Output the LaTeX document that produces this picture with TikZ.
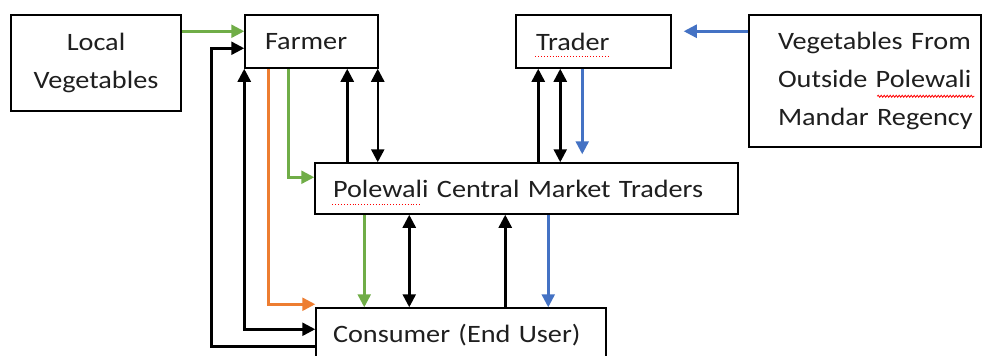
\documentclass[tikz,border=0pt]{standalone}
\usepackage{fontspec}
\setmainfont{Carlito}[FakeStretch=1.13]
\usetikzlibrary{arrows.meta,calc,decorations.pathmorphing}
\definecolor{cgreen}{HTML}{70AD47}
\definecolor{corange}{HTML}{ED7D31}
\definecolor{cblue}{HTML}{4472C4}
\tikzset{
  box/.style={draw, line width=1.5pt, inner sep=0pt, text=black!88, font=\fontsize{25}{38}\selectfont},
  conn/.style={line width=2.5pt, -{Triangle[length=13pt,width=13pt]}},
  dconn/.style={line width=2.5pt, {Triangle[length=13pt,width=13pt]}-{Triangle[length=13pt,width=13pt]}},
  spell/.style={red, line width=0.9pt, dotted},
}
\begin{document}
\begin{tikzpicture}[x=1pt,y=-1pt]
\clip (0,0) rectangle (991,356);
\fill[white] (0,0) rectangle (991,356);
% boxes
\node[box, minimum width=170, minimum height=96, align=center] (lv) at (96,63) {Local\\Vegetables};
\node[box, minimum width=133, minimum height=53, text width=93, inner xsep=20, align=left] (farmer) at (311.5,41.5) {Farmer};
\node[box, minimum width=155, minimum height=53, text width=115, inner xsep=20, align=left] (trader) at (593.5,41.5) {Trader};
\node[box, minimum width=232, minimum height=132, text width=174, inner xsep=29, align=left] (veg) at (865,81) {\mbox{Vegetables From}\\\mbox{Outside Polewali}\\\mbox{Mandar Regency}};
\node[box, minimum width=423, minimum height=51, text width=387, inner xsep=18, align=left] (pcmt) at (526.5,188.5) {\mbox{Polewali Central Market Traders}};
\node[box, minimum width=290, minimum height=54, text width=256, inner xsep=17, align=left] (consumer) at (461,335) {\mbox{Consumer (End User)}};
% spell-check marks
\draw[spell] ($(trader.north west)+(20,42)$) -- ++(74,0);
\draw[spell] ($(pcmt.north west)+(18,42)$) -- ++(88,0);
\draw[red, line width=0.8pt, decorate, decoration={snake, amplitude=1pt, segment length=3pt}] ($(veg.north west)+(129,82)$) -- ++(97,0);
% top connectors
\draw[conn, cgreen] ($(lv.north east)+(0,17)$) -- ($(farmer.north west)+(0,17)$);
\draw[conn, cblue] ($(veg.north west)+(0,17)$) -- ($(trader.north east)+(12,17)$);
% farmer <-> consumer loops
\draw[conn, line join=miter] ($(consumer.north west)+(0,39)$) -- ++(-104,0) |- ($(farmer.north west)+(0,34)$);
\draw[dconn] (farmer.south west) |- ($(consumer.north west)+(0,22)$);
\draw[conn, corange] ($(farmer.south west)+(24,0)$) |- ($(consumer.north west)+(0,-3)$);
\draw[conn, cgreen] ($(farmer.south west)+(44,0)$) |- ($(pcmt.north west)+(0,15)$);
% farmer - pcmt
\draw[conn] ($(pcmt.north west)+(33,0)$) coordinate (a1) -- (a1 |- farmer.south);
\draw[dconn] ($(farmer.south east)+(-1,0)$) coordinate (a2) -- (a2 |- pcmt.north);
% trader - pcmt
\draw[conn] ($(pcmt.north west)+(224,0)$) coordinate (b1) -- (b1 |- trader.south);
\draw[dconn] ($(trader.south west)+(45,0)$) coordinate (b2) -- (b2 |- pcmt.north);
\draw[conn, cblue] ($(trader.south west)+(67,0)$) coordinate (b3) -- ($(b3 |- pcmt.north)+(0,-8)$);
% pcmt - consumer
\draw[conn, cgreen] ($(pcmt.south west)+(50,0)$) coordinate (c1) -- (c1 |- consumer.north);
\draw[dconn] ($(pcmt.south west)+(95,0)$) coordinate (c2) -- (c2 |- consumer.north);
\draw[conn] ($(consumer.north west)+(190,0)$) coordinate (c3) -- (c3 |- pcmt.south);
\draw[conn, cblue] ($(pcmt.south west)+(234,0)$) coordinate (c4) -- (c4 |- consumer.north);
\end{tikzpicture}
\end{document}
